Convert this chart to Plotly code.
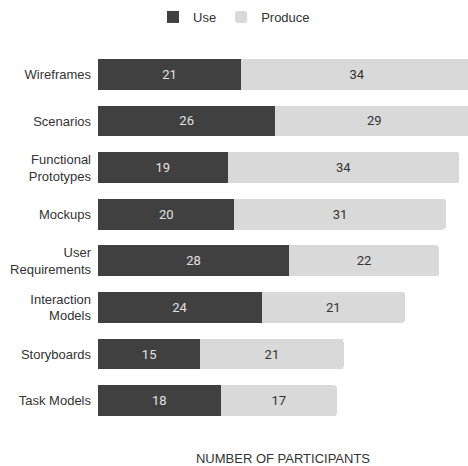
import plotly.graph_objects as go

categories = ["Wireframes", "Scenarios", "Functional<br>Prototypes", "Mockups",
              "User<br>Requirements", "Interaction<br>Models", "Storyboards", "Task Models"]
use_vals = [21, 26, 19, 20, 28, 24, 15, 18]
produce_vals = [34, 29, 34, 31, 22, 21, 21, 17]

DARK = "#404040"
LIGHT = "#d9d9d9"

fig = go.Figure()
fig.add_trace(go.Bar(
    y=categories, x=use_vals, name="Use", orientation="h",
    marker=dict(color=DARK, line=dict(width=0)),
    text=use_vals, textposition="inside", insidetextanchor="middle",
    textfont=dict(color="#e0e0e0", size=13, family="Roboto"),
))
fig.add_trace(go.Bar(
    y=categories, x=produce_vals, name="Produce", orientation="h",
    marker=dict(color=LIGHT, line=dict(width=0), cornerradius=3),
    text=produce_vals, textposition="inside", insidetextanchor="middle",
    textfont=dict(color="#333333", size=13, family="Roboto"),
))

fig.update_layout(
    width=468, height=466,
    barmode="stack", bargap=0.34,
    paper_bgcolor="white", plot_bgcolor="white",
    margin=dict(l=98, r=0, t=51, b=42),
    font=dict(family="Liberation Sans, Arial, sans-serif", size=13, color="#333333"),
    showlegend=True,
    legend=dict(orientation="h", xref="container", x=0.5, xanchor="center",
                yref="container", y=1 - 17 / 466, yanchor="middle",
                font=dict(size=13, color="#333333"), itemwidth=30, traceorder="normal"),
    uniformtext=dict(minsize=13, mode="show"),
    xaxis=dict(range=[0, 54.25], showticklabels=False, showgrid=False, zeroline=False,
               showline=False, ticks="",
               title=dict(text="NUMBER OF PARTICIPANTS", standoff=29,
                          font=dict(size=13, color="#333333"))),
    yaxis=dict(autorange="reversed", showgrid=False, zeroline=False, showline=False,
               ticks="", ticklabelstandoff=6, tickfont=dict(size=13, color="#333333")),
)

fig.write_html("out.html")
